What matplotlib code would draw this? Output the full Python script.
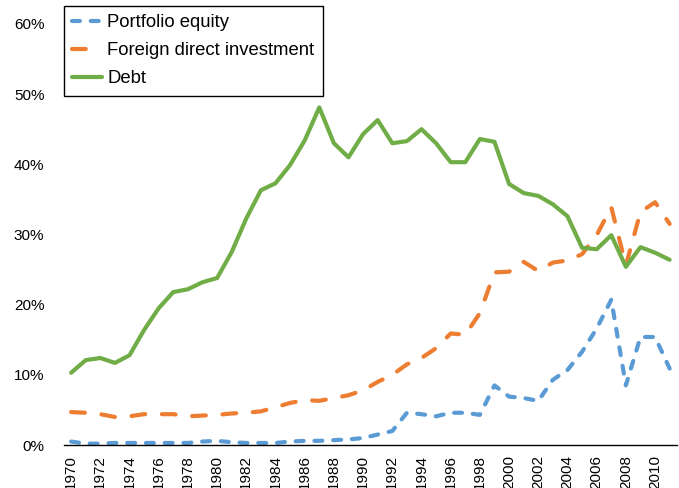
import numpy as np
import matplotlib.pyplot as plt

plt.rcParams['font.family'] = ['Liberation Sans', 'DejaVu Sans']

# shares of total external liabilities, 1970-2011
years = list(range(1970, 2012))

portfolio_equity = [0.5, 0.2, 0.2, 0.3, 0.3, 0.3, 0.3, 0.3, 0.3, 0.5,
                    0.6, 0.4, 0.3, 0.3, 0.3, 0.5, 0.6, 0.6, 0.7, 0.8,
                    1.0, 1.5, 2.0, 4.6, 4.4, 4.1, 4.6, 4.6, 4.3, 8.5,
                    6.9, 6.7, 6.3, 9.3, 10.7, 13.3, 16.6, 20.7, 8.5, 15.4,
                    15.4, 10.9]

fdi = [4.7, 4.6, 4.4, 4.0, 4.1, 4.4, 4.4, 4.4, 4.1, 4.2,
       4.3, 4.5, 4.6, 4.8, 5.4, 6.0, 6.4, 6.3, 6.7, 7.1,
       7.8, 9.0, 10.0, 11.5, 12.4, 13.8, 15.9, 15.7, 18.8, 24.6,
       24.7, 26.1, 24.8, 26.0, 26.3, 27.2, 29.9, 33.9, 25.6, 33.2,
       34.6, 31.5]

debt = [10.3, 12.1, 12.4, 11.7, 12.8, 16.4, 19.5, 21.8, 22.2, 23.2,
        23.8, 27.5, 32.3, 36.3, 37.3, 39.9, 43.4, 48.1, 43.0, 41.0,
        44.3, 46.3, 43.0, 43.3, 45.0, 43.0, 40.3, 40.3, 43.6, 43.2,
        37.2, 35.9, 35.5, 34.3, 32.6, 28.1, 27.9, 29.9, 25.4, 28.2,
        27.4, 26.4]

series_names = ['Portfolio equity', 'Foreign direct investment', 'Debt']
colors = ['#5B9BD5', '#ED7D31', '#70AD47']

fig = plt.figure(figsize=(6.79, 4.88), dpi=100)
ax = fig.add_axes([0.094, 0.088, 0.903, 0.863])

lw = 3.0
l1, = ax.plot(years, np.array(portfolio_equity) / 100, color=colors[0], lw=lw,
              dash_capstyle='round', label=series_names[0])
l1.set_dashes([1.9, 2.6])
l2, = ax.plot(years, np.array(fdi) / 100, color=colors[1], lw=lw,
              dash_capstyle='round', label=series_names[1])
l2.set_dashes([3.3, 4.0])
ax.plot(years, np.array(debt) / 100, color=colors[2], lw=lw,
        solid_capstyle='round', solid_joinstyle='round', label=series_names[2])

ax.set_xlim(1969.5, 2011.5)
ax.set_ylim(0, 0.6)
ax.set_yticks(np.arange(0, 0.61, 0.1))
ax.set_yticklabels([f'{int(round(v * 100))}%' for v in np.arange(0, 0.61, 0.1)])
ax.set_xticks(years[::2])
ax.set_xticklabels([str(y) for y in years[::2]], rotation=90)
ax.tick_params(axis='both', length=0, labelsize=11)
ax.tick_params(axis='y', pad=14)
ax.tick_params(axis='x', pad=7)

for side in ['top', 'right', 'left']:
    ax.spines[side].set_visible(False)
ax.spines['bottom'].set_linewidth(1.0)

leg = ax.legend(loc='upper left', bbox_to_anchor=(64 / 679, 1 - 6 / 488),
                bbox_transform=fig.transFigure, borderaxespad=0,
                fancybox=False, edgecolor='black', fontsize=13.3,
                handlelength=1.6, handletextpad=0.3, labelspacing=0.6,
                borderpad=0.45, framealpha=1)
leg.get_frame().set_linewidth(1.0)

fig.savefig('out.png', dpi=100)
